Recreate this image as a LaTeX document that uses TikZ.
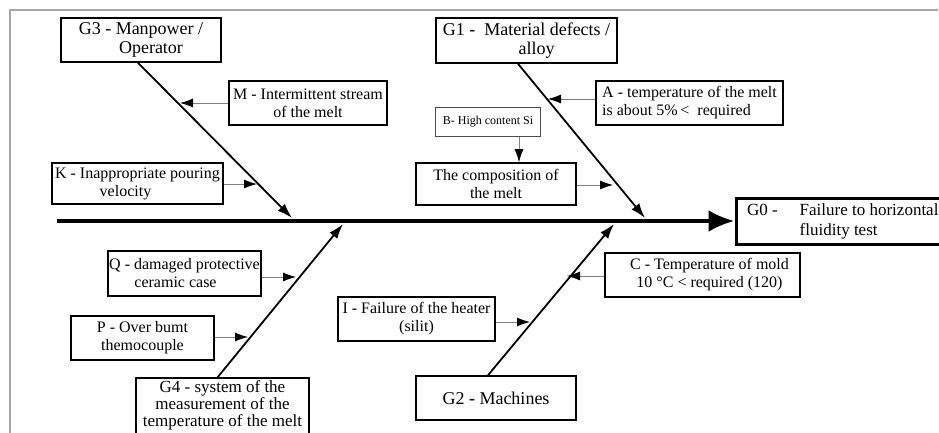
\documentclass[tikz,border=0pt]{standalone}
\usepackage{fontspec}
\setmainfont{Liberation Serif}
\usetikzlibrary{arrows.meta,calc}
\begin{document}
\begin{tikzpicture}[x=1pt,y=-1pt,
  box/.style={draw, line width=1.6pt, align=center, inner sep=0pt, font=\fontsize{16}{18}\selectfont},
  gbox/.style={box, font=\fontsize{18}{19}\selectfont},
  branch/.style={line width=1.8pt, -{Latex[length=15pt,width=10pt]}},
  small/.style={draw=black!50, line width=0.8pt, -{Latex[length=13pt,width=9pt,color=black]}},
  spine/.style={line width=4pt, -{Latex[length=26pt,width=22pt]}},
]
\useasboundingbox (0,0) rectangle (939,433);
% frame
\draw[black!35, line width=1.2pt] (10,440) -- (10,10) -- (938,10);

% boxes
\node[gbox, minimum width=160pt, minimum height=44pt] (G3) at (141,40) {G3 - Manpower /\\\hspace*{20pt}Operator};
\node[gbox, minimum width=181pt, minimum height=45pt] (G1) at (526.5,40.5) {G1 -\ \ Material defects /\\\hspace*{20pt}alloy};
\node[box, minimum width=158pt, minimum height=44pt] (M) at (308,103) {M - Intermittent stream\\of the melt};
\node[box, minimum width=187pt, minimum height=44pt, align=left] (A) at (689.5,103) {A - temperature of the melt\\is about 5\%\,<\ \ required};
\node[draw=black!70, line width=0.8pt, minimum width=105pt, minimum height=29pt, inner sep=0pt, font=\fontsize{12}{14}\selectfont] (B) at (488,122) {B- High content Si};
\node[box, minimum width=160pt, minimum height=42pt] (Comp) at (496,184) {The composition of\\the melt};
\node[box, minimum width=171pt, minimum height=41pt] (K) at (137.5,183.5) {K - Inappropriate pouring\\velocity\hspace*{24pt}};
\node[draw, line width=3pt, anchor=west, minimum height=46pt, inner xsep=11pt, inner ysep=0pt, font=\fontsize{17}{20}\selectfont] (G0) at (734.5,221) {\begin{tabular}{@{}l@{\hspace{22pt}}l@{}}G0 - & Failure to horizontal\\ & fluidity test\end{tabular}};
\node[box, minimum width=195pt, minimum height=44pt] (C) at (702.5,275) {\hspace*{14pt}C - Temperature of mold\\\hspace*{14pt}10 °C < required (120)};
\node[box, minimum width=157pt, minimum height=44pt] (I) at (416.5,319) {I - Failure of the heater\\(silit)};
\node[box, minimum width=153pt, minimum height=45pt] (Q) at (184.5,273.5) {Q - damaged protective\\ceramic case\hspace*{18pt}};
\node[box, minimum width=143pt, minimum height=44pt] (P) at (142.5,338) {P - Over bumt\\themocouple};
\node[gbox, minimum width=160pt, minimum height=44pt] (G2) at (496,398) {G2 - Machines};
\node[align=center, inner xsep=0pt, inner ysep=2pt, minimum width=173pt, anchor=north, font=\fontsize{17}{17}\selectfont] (G4) at (222.5,378) {G4 - system of the\\measurement of the\\temperature of the melt};
\draw[line width=1.6pt] (G4.north west) rectangle ([yshift=-20pt]G4.south east);

% spine
\coordinate (tail) at (57,221);
\draw[spine] (tail) -- (G0.west);

% branches
\coordinate (g3t) at (292,218);
\coordinate (g1t) at (645,218);
\coordinate (g2t) at (614,224);
\coordinate (g4t) at (343,224);
\draw[branch] ([xshift=-3pt]G3.south) -- (g3t);
\draw[branch] ([xshift=-8.5pt]G1.south) -- (g1t);
\draw[branch] ([xshift=-8pt]G2.north) -- (g2t);
\draw[branch] ([xshift=-5.5pt]G4.north) -- (g4t);

% small causes
\coordinate (mT) at (180,103);
\coordinate (kT) at (257,184);
\coordinate (aT) at (548,99);
\coordinate (cT) at (613,185);
\coordinate (CT) at (567,276);
\coordinate (iT) at (530,322);
\coordinate (qT) at (296,277);
\coordinate (pT) at (248,337);
\draw[small] (M.west) -- (mT);
\draw[small] (K.east |- kT) -- (kT);
\draw[small] (A.west |- aT) -- (aT);
\draw[small] (Comp.east |- cT) -- (cT);
\draw[small] ([xshift=31pt]B.south) -- ([xshift=23pt]Comp.north);
\draw[small] (C.west |- CT) -- (CT);
\draw[small] (I.east |- iT) -- (iT);
\draw[small] (Q.east |- qT) -- (qT);
\draw[small] (P.east |- pT) -- (pT);
\end{tikzpicture}
\end{document}
